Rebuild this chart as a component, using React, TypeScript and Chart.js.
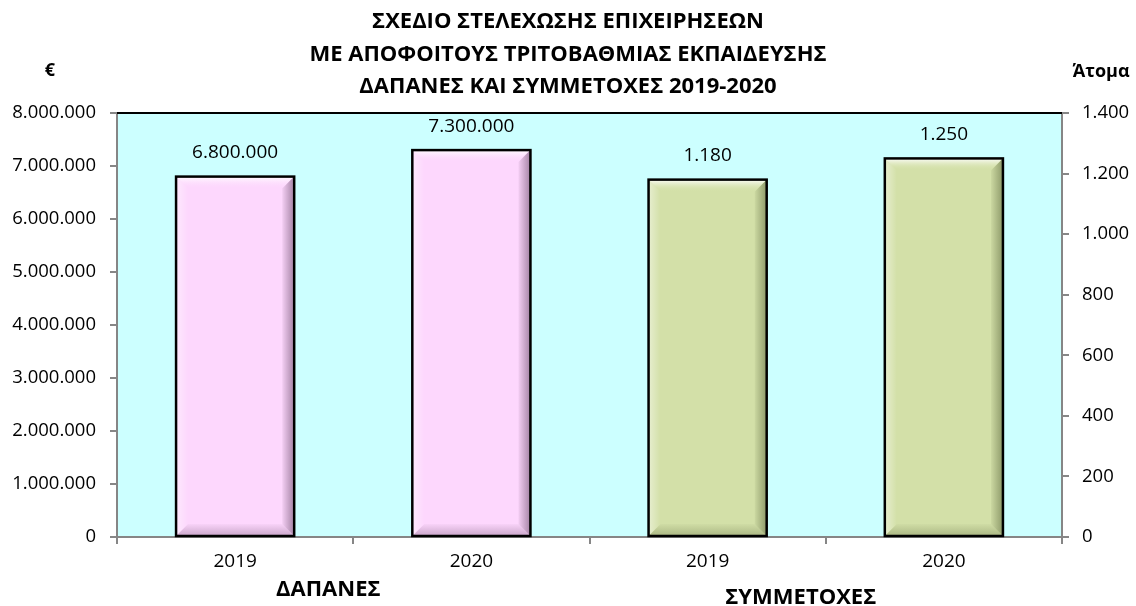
import React, { useEffect, useRef } from 'react';
import { Chart, registerables } from 'chart.js';

Chart.register(...registerables);

const categories = ['2019', '2020', '2019', '2020'];
const groupLabels = ['ΔΑΠΑΝΕΣ', 'ΣΥΜΜΕΤΟΧΕΣ'];
const expenses: (number | null)[] = [6800000, 7300000, null, null];
const participants: (number | null)[] = [null, null, 1180, 1250];
const titleLines = [
  'ΣΧΕΔΙΟ ΣΤΕΛΕΧΩΣΗΣ ΕΠΙΧΕΙΡΗΣΕΩΝ',
  'ΜΕ ΑΠΟΦΟΙΤΟΥΣ ΤΡΙΤΟΒΑΘΜΙΑΣ ΕΚΠΑΙΔΕΥΣΗΣ',
  'ΔΑΠΑΝΕΣ ΚΑΙ ΣΥΜΜΕΤΟΧΕΣ 2019-2020',
];
const leftAxisTitle = '€';
const rightAxisTitle = 'Άτομα';
const leftMax = 8000000;
const leftStep = 1000000;
const rightMax = 1400;
const rightStep = 200;

const FONT = "'Open Sans', 'Noto Sans', sans-serif";
const PINK = '#FDD7FD';
const PINK_DARK = '#A07EA0';
const GREEN = '#D3E0A8';
const GREEN_DARK = '#8A9666';
const CYAN = '#CCFFFF';

function fmt(n: number): string {
  return Math.round(n).toString().replace(/\B(?=(\d{3})+(?!\d))/g, '.');
}

function hexToRgb(h: string) {
  const v = parseInt(h.slice(1), 16);
  return [(v >> 16) & 255, (v >> 8) & 255, v & 255];
}
function rgba(h: string, a: number) {
  const [r, g, b] = hexToRgb(h);
  return `rgba(${r},${g},${b},${a})`;
}

const decorPlugin = {
  id: 'decor',
  beforeDraw(chart: any) {
    const { ctx, chartArea } = chart;
    ctx.save();
    ctx.fillStyle = CYAN;
    ctx.fillRect(chartArea.left, chartArea.top, chartArea.right - chartArea.left, chartArea.bottom - chartArea.top);
    ctx.restore();
  },
  afterDatasetsDraw(chart: any) {
    const { ctx } = chart;
    chart.data.datasets.forEach((ds: any, di: number) => {
      const meta = chart.getDatasetMeta(di);
      const fill = di === 0 ? PINK : GREEN;
      const dark = di === 0 ? PINK_DARK : GREEN_DARK;
      meta.data.forEach((el: any, i: number) => {
        const v = ds.data[i];
        if (v === null || v === undefined) return;
        const p = el.getProps(['x', 'y', 'base', 'width'], true);
        const L = p.x - p.width / 2;
        const R = p.x + p.width / 2;
        const T = p.y;
        const B = p.base;
        const b = 12;
        ctx.save();
        let g = ctx.createLinearGradient(0, T, 0, T + b);
        g.addColorStop(0, 'rgba(255,255,255,0.95)');
        g.addColorStop(1, rgba(fill, 0));
        ctx.fillStyle = g;
        ctx.beginPath();
        ctx.moveTo(L, T); ctx.lineTo(R, T); ctx.lineTo(R - b, T + b); ctx.lineTo(L + b, T + b); ctx.closePath();
        ctx.fill();
        g = ctx.createLinearGradient(L, 0, L + b, 0);
        g.addColorStop(0, 'rgba(255,255,255,0.45)');
        g.addColorStop(1, 'rgba(255,255,255,0)');
        ctx.fillStyle = g;
        ctx.beginPath();
        ctx.moveTo(L, T); ctx.lineTo(L + b, T + b); ctx.lineTo(L + b, B - b); ctx.lineTo(L, B); ctx.closePath();
        ctx.fill();
        g = ctx.createLinearGradient(R - b, 0, R, 0);
        g.addColorStop(0, rgba(dark, 0.1));
        g.addColorStop(1, rgba(dark, 0.95));
        ctx.fillStyle = g;
        ctx.beginPath();
        ctx.moveTo(R, T); ctx.lineTo(R, B); ctx.lineTo(R - b, B - b); ctx.lineTo(R - b, T + b); ctx.closePath();
        ctx.fill();
        g = ctx.createLinearGradient(0, B - b, 0, B);
        g.addColorStop(0, rgba(dark, 0.05));
        g.addColorStop(1, rgba(dark, 0.55));
        ctx.fillStyle = g;
        ctx.beginPath();
        ctx.moveTo(L, B); ctx.lineTo(R, B); ctx.lineTo(R - b, B - b); ctx.lineTo(L + b, B - b); ctx.closePath();
        ctx.fill();
        ctx.strokeStyle = '#000';
        ctx.lineWidth = 2.5;
        ctx.strokeRect(L, T, R - L, B - T);
        ctx.fillStyle = '#000';
        ctx.font = `19px ${FONT}`;
        ctx.textAlign = 'center';
        ctx.textBaseline = 'middle';
        ctx.fillText(fmt(v), p.x, T - 24);
        ctx.restore();
      });
    });
  },
  afterDraw(chart: any) {
    const { ctx, chartArea, width } = chart;
    ctx.save();
    ctx.strokeStyle = '#000';
    ctx.lineWidth = 2;
    ctx.beginPath();
    ctx.moveTo(chartArea.left, chartArea.top);
    ctx.lineTo(chartArea.right, chartArea.top);
    ctx.stroke();
    ctx.fillStyle = '#000';
    ctx.font = `bold 22px ${FONT}`;
    ctx.textAlign = 'center';
    ctx.textBaseline = 'alphabetic';
    const cx = width / 2;
    titleLines.forEach((t, i) => ctx.fillText(t, cx, 28 + i * 32.5));
    ctx.font = `bold 18px ${FONT}`;
    ctx.textBaseline = 'middle';
    ctx.fillText(leftAxisTitle, 50, 71);
    ctx.fillText(rightAxisTitle, 1101, 72);
    const xs = chart.scales.x;
    ctx.font = `bold 22px ${FONT}`;
    ctx.textBaseline = 'alphabetic';
    groupLabels.forEach((g, gi) => {
      const a = xs.getPixelForValue(gi * 2);
      const c = xs.getPixelForValue(gi * 2 + 1);
      const mid = (a + c) / 2 - 25;
      ctx.fillText(g, mid, 596 + gi * 8);
    });
    ctx.restore();
  },
};

export default function App() {
  const ref = useRef<HTMLCanvasElement | null>(null);
  useEffect(() => {
    document.body.style.margin = '0';
    const canvas = ref.current;
    if (!canvas) return;
    const chart = new Chart(canvas, {
      type: 'bar',
      data: {
        labels: categories,
        datasets: [
          { label: 'ΔΑΠΑΝΕΣ', data: expenses, backgroundColor: PINK, borderWidth: 0, yAxisID: 'y' },
          { label: 'ΣΥΜΜΕΤΟΧΕΣ', data: participants, backgroundColor: GREEN, borderWidth: 0, yAxisID: 'y1' },
        ],
      },
      options: {
        responsive: true,
        maintainAspectRatio: false,
        animation: false,
        events: [],
        layout: { padding: { top: 113, left: 0, right: 0, bottom: 0 } },
        datasets: {
          bar: { grouped: false, barPercentage: 0.5, categoryPercentage: 1 },
        },
        plugins: {
          legend: { display: false },
          title: { display: false },
          tooltip: { enabled: false },
        },
        scales: {
          x: {
            offset: true,
            grid: { offset: true, drawOnChartArea: false, drawTicks: true, tickLength: 7, color: '#868686', lineWidth: 2 },
            border: { color: '#868686', width: 2 },
            ticks: { color: '#000', font: { family: FONT, size: 19 }, padding: 6, maxRotation: 0 },
            afterFit(s: any) { s.height = 69; },
          },
          y: {
            position: 'left',
            min: 0,
            max: leftMax,
            grid: { drawOnChartArea: false, tickLength: 7, color: '#868686', lineWidth: 2 },
            border: { color: '#868686', width: 2 },
            ticks: {
              stepSize: leftStep,
              color: '#000',
              font: { family: FONT, size: 18.5 },
              padding: 14,
              callback: (v: any) => fmt(Number(v)),
            },
            afterFit(s: any) { s.width = 117; },
          },
          y1: {
            position: 'right',
            min: 0,
            max: rightMax,
            grid: { drawOnChartArea: false, tickLength: 7, color: '#868686', lineWidth: 2 },
            border: { color: '#868686', width: 2 },
            ticks: {
              stepSize: rightStep,
              color: '#000',
              font: { family: FONT, size: 18.5 },
              padding: 13,
              callback: (v: any) => fmt(Number(v)),
            },
            afterFit(s: any) { s.width = 74; },
          },
        },
      },
      plugins: [decorPlugin],
    });
    return () => chart.destroy();
  }, []);
  return (
    <div style={{ position: 'absolute', left: 0, top: 0, width: 1136, height: 606 }}>
      <canvas ref={ref} />
    </div>
  );
}
